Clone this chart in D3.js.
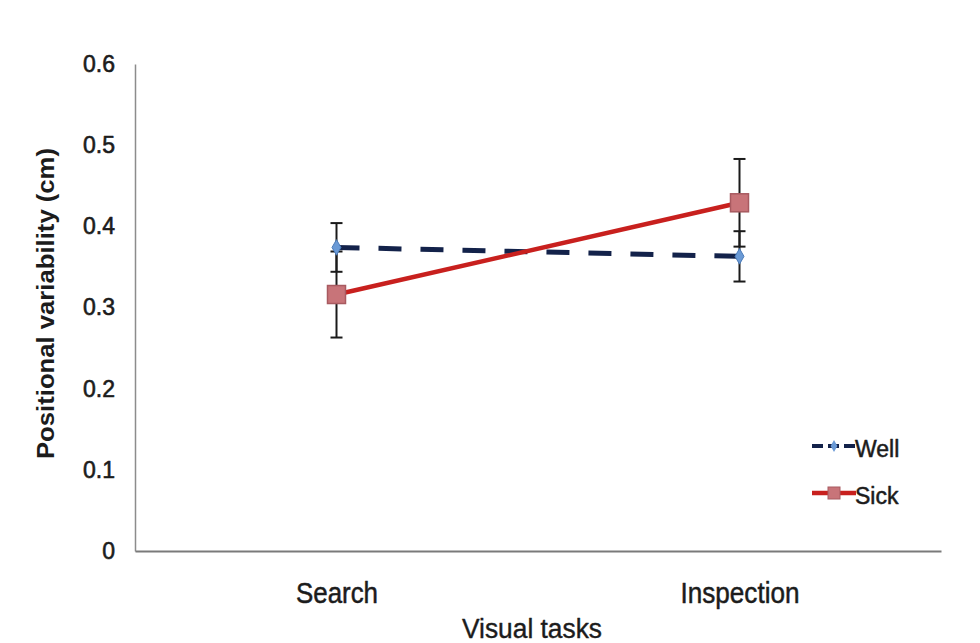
<!DOCTYPE html>
<html><head><meta charset="utf-8">
<script src="https://cdn.jsdelivr.net/npm/d3@7"></script>
<style>
html,body{margin:0;padding:0;background:#fff;}
svg{display:block;font-family:"Liberation Sans",Arial,sans-serif;}
</style></head>
<body><svg id="chart" width="980" height="643"></svg>
<script>
const categories = ["Search", "Inspection"];
const seriesNames = ["Well", "Sick"];
const wellValues = [0.374, 0.363];
const wellErrors = [0.030, 0.031];
const sickValues = [0.316, 0.429];
const sickErrors = [0.053, 0.054];
const yTicks = [0, 0.1, 0.2, 0.3, 0.4, 0.5, 0.6];
const yTickLabels = ["0", "0.1", "0.2", "0.3", "0.4", "0.5", "0.6"];
const xTitle = "Visual tasks";
const yTitle = "Positional variability (cm)";

const svg = d3.select("#chart");
const m = {left: 135, right: 39, top: 64, bottom: 92};
const W = 980, H = 643;
const x = d3.scalePoint().domain(categories).range([m.left, W - m.right]).padding(0.5);
const y = d3.scaleLinear().domain([0, 0.6]).range([H - m.bottom, m.top]);
const textCol = "#1c1c1c";

function thicken(sel, w) {
  sel.attr("stroke", textCol).attr("stroke-width", w).attr("stroke-linejoin", "round");
}

// axes
const yAxis = svg.append("g").attr("transform", `translate(${m.left},0)`)
  .call(d3.axisLeft(y).tickValues(yTicks).tickFormat((d, i) => yTickLabels[i]).tickSize(0).tickPadding(20));
yAxis.select(".domain").attr("stroke", "#8c8c8c").attr("stroke-width", 1.5);
yAxis.selectAll("text").attr("font-size", 23).attr("fill", textCol).call(thicken, 0.6);

const xAxis = svg.append("g").attr("transform", `translate(0,${y(0)})`)
  .call(d3.axisBottom(x).tickSize(0).tickPadding(0));
xAxis.select(".domain").attr("stroke", "#7a7a7a").attr("stroke-width", 2);
xAxis.selectAll("text").attr("font-size", 29).attr("fill", textCol)
  .attr("y", 52).attr("dy", 0)
  .attr("textLength", d => d === "Search" ? 82 : 119).attr("lengthAdjust", "spacingAndGlyphs")
  .call(thicken, 0.5);

svg.append("text").attr("x", 532).attr("y", 638).attr("text-anchor", "middle")
  .attr("font-size", 27).attr("fill", textCol)
  .attr("textLength", 140).attr("lengthAdjust", "spacingAndGlyphs").text(xTitle).call(thicken, 0.4);
svg.append("text").attr("transform", `translate(54,${(148 + 459) / 2}) rotate(-90)`)
  .attr("text-anchor", "middle").attr("font-size", 23).attr("font-weight", "bold").attr("fill", textCol)
  .attr("textLength", 311).attr("lengthAdjust", "spacingAndGlyphs")
  .text(yTitle);

const line = d3.line().x((d, i) => x(categories[i])).y(d => y(d));

// error bars
function errBars(vals, errs) {
  const g = svg.append("g").attr("stroke", "#1a1a1a").attr("stroke-width", 2);
  vals.forEach((v, i) => {
    const cx = x(categories[i]);
    g.append("line").attr("x1", cx).attr("x2", cx).attr("y1", y(v - errs[i])).attr("y2", y(v + errs[i]));
    [v - errs[i], v + errs[i]].forEach(e => {
      g.append("line").attr("x1", cx - 6).attr("x2", cx + 6).attr("y1", y(e)).attr("y2", y(e));
    });
  });
}
errBars(wellValues, wellErrors);
errBars(sickValues, sickErrors);

// Well series
svg.append("path").datum(wellValues).attr("d", line).attr("fill", "none")
  .attr("stroke", "#13224a").attr("stroke-width", 5).attr("stroke-dasharray", "23,19");
const diamond = d3.symbol().type(d3.symbolDiamond).size(70);
wellValues.forEach((v, i) => {
  svg.append("path").attr("d", diamond).attr("transform", `translate(${x(categories[i])},${y(v)})`)
    .attr("fill", "#6a9ad6").attr("stroke", "#4a7ab8").attr("stroke-width", 1);
});

// Sick series
svg.append("path").datum(sickValues).attr("d", line).attr("fill", "none")
  .attr("stroke", "#c8201e").attr("stroke-width", 4.5);
sickValues.forEach((v, i) => {
  svg.append("rect").attr("x", x(categories[i]) - 9).attr("y", y(v) - 9).attr("width", 18).attr("height", 18)
    .attr("fill", "#c87479").attr("stroke", "#a85a60").attr("stroke-width", 1.5);
});

// legend
const leg = svg.append("g");
seriesNames.forEach((name, i) => {
  const ly = 446 + i * 47;
  if (name === "Well") {
    leg.append("line").attr("x1", 812).attr("x2", 856).attr("y1", ly).attr("y2", ly)
      .attr("stroke", "#13224a").attr("stroke-width", 4).attr("stroke-dasharray", "11,5");
    leg.append("path").attr("d", d3.symbol().type(d3.symbolDiamond).size(40))
      .attr("transform", `translate(834,${ly})`).attr("fill", "#6a9ad6");
  } else {
    leg.append("line").attr("x1", 812).attr("x2", 856).attr("y1", ly).attr("y2", ly)
      .attr("stroke", "#c8201e").attr("stroke-width", 4.5);
    leg.append("rect").attr("x", 828).attr("y", ly - 6).attr("width", 12).attr("height", 12)
      .attr("fill", "#c87479").attr("stroke", "#a85a60");
  }
  leg.append("text").attr("x", 855).attr("y", ly + 11)
    .attr("font-size", 23).attr("fill", textCol).text(name).call(thicken, 0.5);
});
</script></body></html>
